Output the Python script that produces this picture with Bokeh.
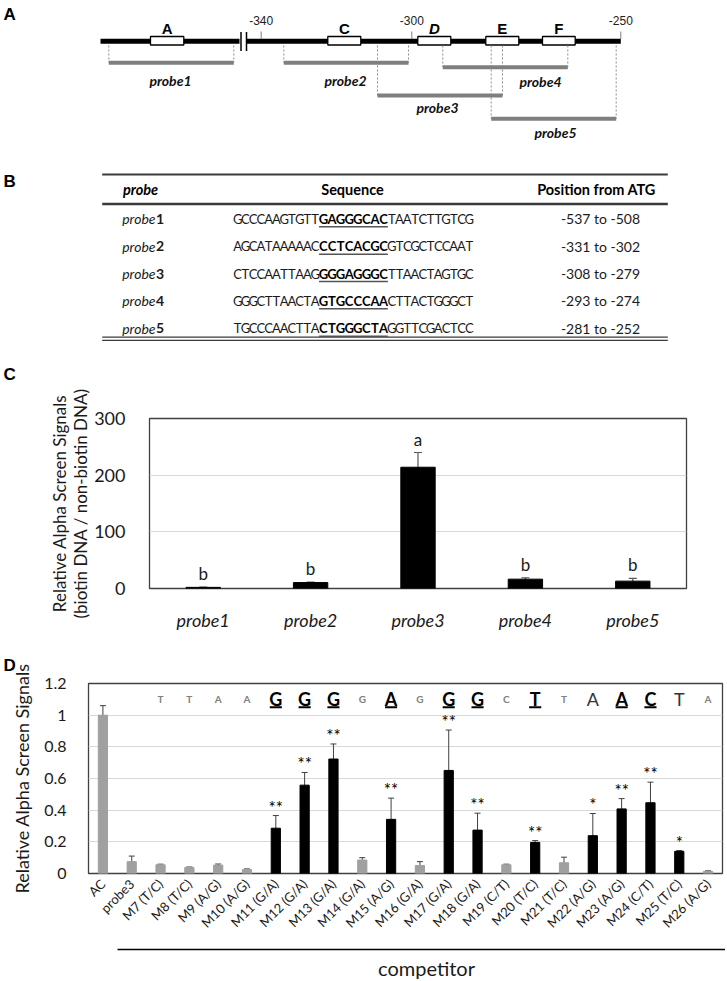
import math
from bokeh.plotting import figure
from bokeh.models import (Range1d, FactorRange, ColumnDataSource, Whisker, TeeHead,
                          FixedTicker, CustomJSTickFormatter)
from bokeh.core.properties import value
from bokeh.embed import file_html
from bokeh.resources import INLINE

# ---------------- data ----------------
# Panel A: promoter schematic (diagram units)
promoter_start = [100, 246.5]
promoter_end = [239, 620.3]
break_marks_x = [240.5, 246]
element_names = ["A", "C", "D", "E", "F"]
element_left = [150, 327.3, 417.3, 485.3, 542]
element_right = [183.3, 360.3, 450.3, 518.3, 574.7]
position_labels = ["-340", "-300", "-250"]
position_x = [260.7, 411.3, 620.3]
probe_names = ["probe1", "probe2", "probe3", "probe4", "probe5"]
probe_start = [108.3, 283.3, 377, 442.3, 490.7]
probe_end = [233.3, 408, 502, 567.3, 615.7]
probe_track = [62.3, 62.3, 95, 66.7, 118.3]
probe_label_x = [170, 345, 437, 540, 555]
probe_label_track = [80, 80, 107, 81, 132]

# Panel B: probe table
table_numbers = ["1", "2", "3", "4", "5"]
seq_5prime = ["GCCCAAGTGTT", "AGCATAAAAAC", "CTCCAATTAAG", "GGGCTTAACTA", "TGCCCAACTTA"]
seq_core = ["GAGGGCAC", "CCTCACGC", "GGGAGGGC", "GTGCCCAA", "CTGGGCTA"]
seq_3prime = ["TAATCTTGTCG", "GTCGCTCCAAT", "TTAACTAGTGC", "CTTACTGGGCT", "GGTTCGACTCC"]
positions_from_atg = ["-537 to -508", "-331 to -302", "-308 to -279", "-293 to -274", "-281 to -252"]

# Panel C
c_probes = ["probe1", "probe2", "probe3", "probe4", "probe5"]
c_signal = [2.0, 10.5, 214.0, 16.5, 13.0]
c_error = [0.5, 1.0, 26.0, 2.5, 5.0]
c_groups = ["b", "b", "a", "b", "b"]

# Panel D
d_competitors = ["AC", "probe3", "M7 (T/C)", "M8 (T/C)", "M9 (A/G)", "M10 (A/G)", "M11 (G/A)",
                 "M12 (G/A)", "M13 (G/A)", "M14 (G/A)", "M15 (A/G)", "M16 (G/A)", "M17 (G/A)",
                 "M18 (G/A)", "M19 (C/T)", "M20 (T/C)", "M21 (T/C)", "M22 (A/G)", "M23 (A/G)",
                 "M24 (C/T)", "M25 (T/C)", "M26 (A/G)"]
d_signal = [1.0, 0.075, 0.055, 0.038, 0.053, 0.025, 0.286, 0.558, 0.723, 0.085, 0.342, 0.05,
            0.651, 0.274, 0.055, 0.196, 0.068, 0.239, 0.408, 0.447, 0.14, 0.014]
d_error = [0.06, 0.035, 0.004, 0.003, 0.007, 0.004, 0.08, 0.08, 0.095, 0.015, 0.134, 0.025,
           0.255, 0.107, 0.004, 0.012, 0.035, 0.14, 0.065, 0.13, 0.005, 0.003]
d_significance = ["", "", "", "", "", "", "**", "**", "**", "", "**", "", "**", "**", "", "**",
                  "", "*", "**", "**", "*", ""]
d_mutated_base = ["T", "T", "A", "A", "G", "G", "G", "G", "A", "G", "G", "G", "C", "T", "T",
                  "A", "A", "C", "T", "A"]  # M7 .. M26

# ---------------- helpers ----------------
W = 725
DARK = "#1a1a1a"


def blank(y_top, y_bottom):
    p = figure(width=W, height=y_bottom - y_top, x_range=Range1d(0, W),
               y_range=Range1d(y_bottom, y_top), x_axis_location=None, y_axis_location=None,
               output_backend="svg", toolbar_location=None, min_border=0)
    p.outline_line_color = None
    p.grid.visible = False
    return p


def txt(p, x, y, t, size, font="Lato", style="normal", color=DARK, align="center",
        baseline="middle"):
    p.text(x=x, y=y, text=t, text_font=value(font), text_font_size=value(f"{size}px"),
           text_font_style=value(style), text_color=value(color), text_align=value(align),
           text_baseline=value(baseline))


# ---------------- Panels A + B (schematic & table) ----------------
pab = blank(0, 384)
LINE_Y = 40.7
# panel letters
txt(pab, [3], [14], ["A"], 17, font="Liberation Sans", style="bold", color="black", align="left")
txt(pab, [3], [181], ["B"], 17, font="Liberation Sans", style="bold", color="black", align="left")
txt(pab, [3], [374], ["C"], 17, font="Liberation Sans", style="bold", color="black", align="left")

# promoter line
pab.segment(x0=promoter_start, y0=[LINE_Y] * 2, x1=promoter_end, y1=[LINE_Y] * 2,
            line_width=5, line_color="black")
pab.segment(x0=break_marks_x, y0=[31.5] * 2, x1=break_marks_x, y1=[50.5] * 2,
            line_width=1.5, line_color="black")
# position ticks
pab.segment(x0=position_x, y0=[31] * 3, x1=position_x, y1=[38.5] * 3, line_width=1,
            line_color="#808080")
txt(pab, position_x, [20] * 3, position_labels, 12, font="Liberation Sans", color="#222222")
# cis elements
pab.quad(left=element_left, right=element_right, top=[36] * 5, bottom=[44.5] * 5,
         fill_color="white", line_color="black", line_width=1.3)
elem_cx = [(l + r) / 2 for l, r in zip(element_left, element_right)]
upright = [i for i, n in enumerate(element_names) if n != "D"]
txt(pab, [elem_cx[i] for i in upright], [27.5] * len(upright),
    [element_names[i] for i in upright], 15, font="Liberation Sans", style="bold", color="black")
txt(pab, [elem_cx[2]], [27.5], ["D"], 15, font="Liberation Sans", style="bold italic",
    color="black")
# probes
pab.segment(x0=probe_start + probe_end, y0=[45] * 10, x1=probe_start + probe_end,
            y1=probe_track + probe_track, line_width=1, line_color="#8c8c8c", line_dash="2 2")
pab.segment(x0=probe_start, y0=probe_track, x1=probe_end, y1=probe_track, line_width=4,
            line_color="#7f7f7f")
txt(pab, probe_label_x, probe_label_track, probe_names, 14, style="bold italic", color="#111111")

# table
RULE = "#3a3a3a"
pab.segment(x0=[101.7], y0=[174], x1=[667.3], y1=[174], line_width=2, line_color=RULE)
pab.segment(x0=[101.7], y0=[203.5], x1=[667.3], y1=[203.5], line_width=2.5, line_color=RULE)
pab.segment(x0=[101.7, 101.7], y0=[336.6, 339.8], x1=[667.3, 667.3], y1=[336.6, 339.8],
            line_width=1.3, line_color=RULE)
txt(pab, [140], [189], ["probe"], 14.5, style="bold italic", color="black")
txt(pab, [352, 596], [189, 189], ["Sequence", "Position from ATG"], 14.5, style="bold",
    color="black")

row_y = [218.3 + i * 27.35 for i in range(len(table_numbers))]
txt(pab, [155] * 5, row_y, ["probe"] * 5, 14, style="italic", color=DARK, align="right")
txt(pab, [155.5] * 5, row_y, table_numbers, 14, style="bold", color=DARK, align="left")
txt(pab, [600] * 5, row_y, positions_from_atg, 14, color=DARK)

SEQ_X0, CW_N, CW_B = 233.3, 7.75, 8.6
nx, ny, nt, bx, by, bt = [], [], [], [], [], []
ul_x0, ul_x1, ul_y = [], [], []
for r in range(len(table_numbers)):
    x = SEQ_X0
    for ch in seq_5prime[r]:
        nx.append(x + CW_N / 2); ny.append(row_y[r]); nt.append(ch); x += CW_N
    ul_x0.append(x)
    for ch in seq_core[r]:
        bx.append(x + CW_B / 2); by.append(row_y[r]); bt.append(ch); x += CW_B
    ul_x1.append(x); ul_y.append(row_y[r] + 8)
    for ch in seq_3prime[r]:
        nx.append(x + CW_N / 2); ny.append(row_y[r]); nt.append(ch); x += CW_N
txt(pab, nx, ny, nt, 13, color=DARK)
txt(pab, bx, by, bt, 13, style="bold", color="black")
pab.segment(x0=ul_x0, y0=ul_y, x1=ul_x1, y1=ul_y, line_width=1.5, line_color="#555555")

# ---------------- Panel C ----------------
pc = figure(width=W, height=252, x_range=FactorRange(*c_probes), y_range=Range1d(0, 300),
            output_backend="svg", toolbar_location=None, min_border_left=149,
            min_border_right=39, min_border_top=34, min_border_bottom=48)
pc.outline_line_color = "#404040"
pc.outline_line_width = 1.3
pc.xgrid.visible = False
pc.ygrid.ticker = FixedTicker(ticks=[0, 100, 200, 300])
pc.ygrid.grid_line_color = "#d9d9d9"
pc.yaxis.ticker = FixedTicker(ticks=[0, 100, 200, 300])
for ax in (pc.xaxis[0], pc.yaxis[0]):
    ax.axis_line_color = None
    ax.major_tick_line_color = None
    ax.minor_tick_line_color = None
    ax.major_label_text_font = "Lato"
    ax.major_label_text_font_size = "18px"
    ax.major_label_text_color = DARK
pc.yaxis.major_label_standoff = 18
pc.xaxis.major_label_standoff = 14
pc.xaxis.major_label_text_font_style = "italic"
pc.yaxis.axis_label = "Relative Alpha Screen Signals\n(biotin DNA / non-biotin DNA)"
pc.yaxis.axis_label_text_font = "Lato"
pc.yaxis.axis_label_text_font_size = "17px"
pc.yaxis.axis_label_text_font_style = "normal"
pc.yaxis.axis_label_text_color = DARK
pc.yaxis.axis_label_text_line_height = 1.0
pc.yaxis.axis_label_standoff = 0

src_c = ColumnDataSource(dict(probe=c_probes, signal=c_signal,
                              lower=[v - e for v, e in zip(c_signal, c_error)],
                              upper=[v + e for v, e in zip(c_signal, c_error)],
                              group=c_groups))
pc.vbar(x="probe", top="signal", width=0.32, fill_color="black", line_color="black", source=src_c)
pc.add_layout(Whisker(source=src_c, base="probe", upper="upper", lower="lower",
                      line_color="#595959", line_width=1.2,
                      upper_head=TeeHead(size=8, line_color="#595959", line_width=1.2),
                      lower_head=TeeHead(size=8, line_color="#595959", line_width=1.2)))
pc.text(x="probe", y="upper", text="group", source=src_c, text_font=value("Lato"),
        text_font_size=value("17px"), text_color=value(DARK), text_align=value("center"),
        text_baseline=value("bottom"), y_offset=-3)

# ---------------- Panel D ----------------
pdd = figure(width=W, height=303, x_range=FactorRange(*d_competitors), y_range=Range1d(0, 1.2),
             output_backend="svg", toolbar_location=None, min_border_left=88,
             min_border_right=3, min_border_top=47, min_border_bottom=62)
pdd.title.text = "D"
pdd.title.text_font = "Liberation Sans"
pdd.title.text_font_size = "17px"
pdd.title.text_font_style = "bold"
pdd.title.text_color = "black"
pdd.title.align = "left"
pdd.title.offset = -85
pdd.title.standoff = 18
pdd.outline_line_color = "#404040"
pdd.outline_line_width = 1.3
pdd.xgrid.visible = False
d_ticks = [0, 0.2, 0.4, 0.6, 0.8, 1.0, 1.2]
pdd.ygrid.ticker = FixedTicker(ticks=d_ticks)
pdd.ygrid.grid_line_color = "#d9d9d9"
pdd.yaxis.ticker = FixedTicker(ticks=d_ticks)
pdd.yaxis.formatter = CustomJSTickFormatter(code="return Number(tick.toFixed(1)).toString();")
for ax in (pdd.xaxis[0], pdd.yaxis[0]):
    ax.axis_line_color = None
    ax.major_tick_line_color = None
    ax.minor_tick_line_color = None
    ax.major_label_text_font = "Lato"
    ax.major_label_text_color = DARK
pdd.yaxis.major_label_text_font_size = "16px"
pdd.yaxis.major_label_standoff = 16
pdd.xaxis.major_label_text_font_size = "13px"
pdd.xaxis.major_label_orientation = math.pi / 4
pdd.xaxis.major_label_standoff = 2
pdd.yaxis.axis_label = "Relative Alpha Screen Signals"
pdd.yaxis.axis_label_text_font = "Lato"
pdd.yaxis.axis_label_text_font_size = "18px"
pdd.yaxis.axis_label_text_font_style = "normal"
pdd.yaxis.axis_label_text_color = DARK
pdd.yaxis.axis_label_standoff = 8

bar_colors = ["black" if s else "#a0a0a0" for s in d_significance]
src_d = ColumnDataSource(dict(comp=d_competitors, signal=d_signal,
                              lower=[v - e for v, e in zip(d_signal, d_error)],
                              upper=[v + e for v, e in zip(d_signal, d_error)],
                              sig=d_significance, color=bar_colors))
pdd.vbar(x="comp", top="signal", width=0.32, fill_color="color", line_color="color",
         source=src_d)
pdd.add_layout(Whisker(source=src_d, base="comp", upper="upper", lower="lower",
                       line_color="#404040", line_width=1,
                       upper_head=TeeHead(size=6, line_color="#404040", line_width=1),
                       lower_head=TeeHead(size=6, line_color="#404040", line_width=1)))
pdd.text(x="comp", y="upper", text="sig", source=src_d, text_font=value("Lato"),
         text_font_size=value("17px"), text_color=value("black"), text_align=value("center"),
         text_baseline=value("bottom"), y_offset=2)

# mutated base row
mut_comp = d_competitors[2:]
mut_sig = d_significance[2:]
SEQ_ROW = 1.1
big_bold = [i for i, s in enumerate(mut_sig) if s == "**"]
big_plain = [i for i, s in enumerate(mut_sig) if s == "*"]
small = [i for i, s in enumerate(mut_sig) if s == ""]
pdd.text(x=[mut_comp[i] for i in small], y=[SEQ_ROW] * len(small),
         text=[d_mutated_base[i] for i in small], text_font=value("Lato"),
         text_font_size=value("10px"), text_font_style=value("bold"),
         text_color=value("#808080"), text_align=value("center"), text_baseline=value("middle"))
pdd.text(x=[mut_comp[i] for i in big_bold], y=[SEQ_ROW] * len(big_bold),
         text=[d_mutated_base[i] for i in big_bold], text_font=value("Lato"),
         text_font_size=value("18px"), text_font_style=value("bold"),
         text_color=value("black"), text_align=value("center"), text_baseline=value("middle"))
pdd.rect(x=[mut_comp[i] for i in big_bold], y=[1.05] * len(big_bold), width=0.42, height=2,
         height_units="screen", fill_color="black", line_color=None)
pdd.text(x=[mut_comp[i] for i in big_plain], y=[SEQ_ROW] * len(big_plain),
         text=[d_mutated_base[i] for i in big_plain], text_font=value("Lato"),
         text_font_size=value("18px"), text_color=value("#333333"),
         text_align=value("center"), text_baseline=value("middle"))

# ---------------- competitor bracket ----------------
pe = blank(939, 980)
pe.segment(x0=[117], y0=[949], x1=[725], y1=[949], line_width=1.5, line_color="black")
txt(pe, [426], [967], ["competitor"], 20, color=DARK)

open("out.html", "w").write(file_html([pab, pc, pdd, pe], INLINE))
